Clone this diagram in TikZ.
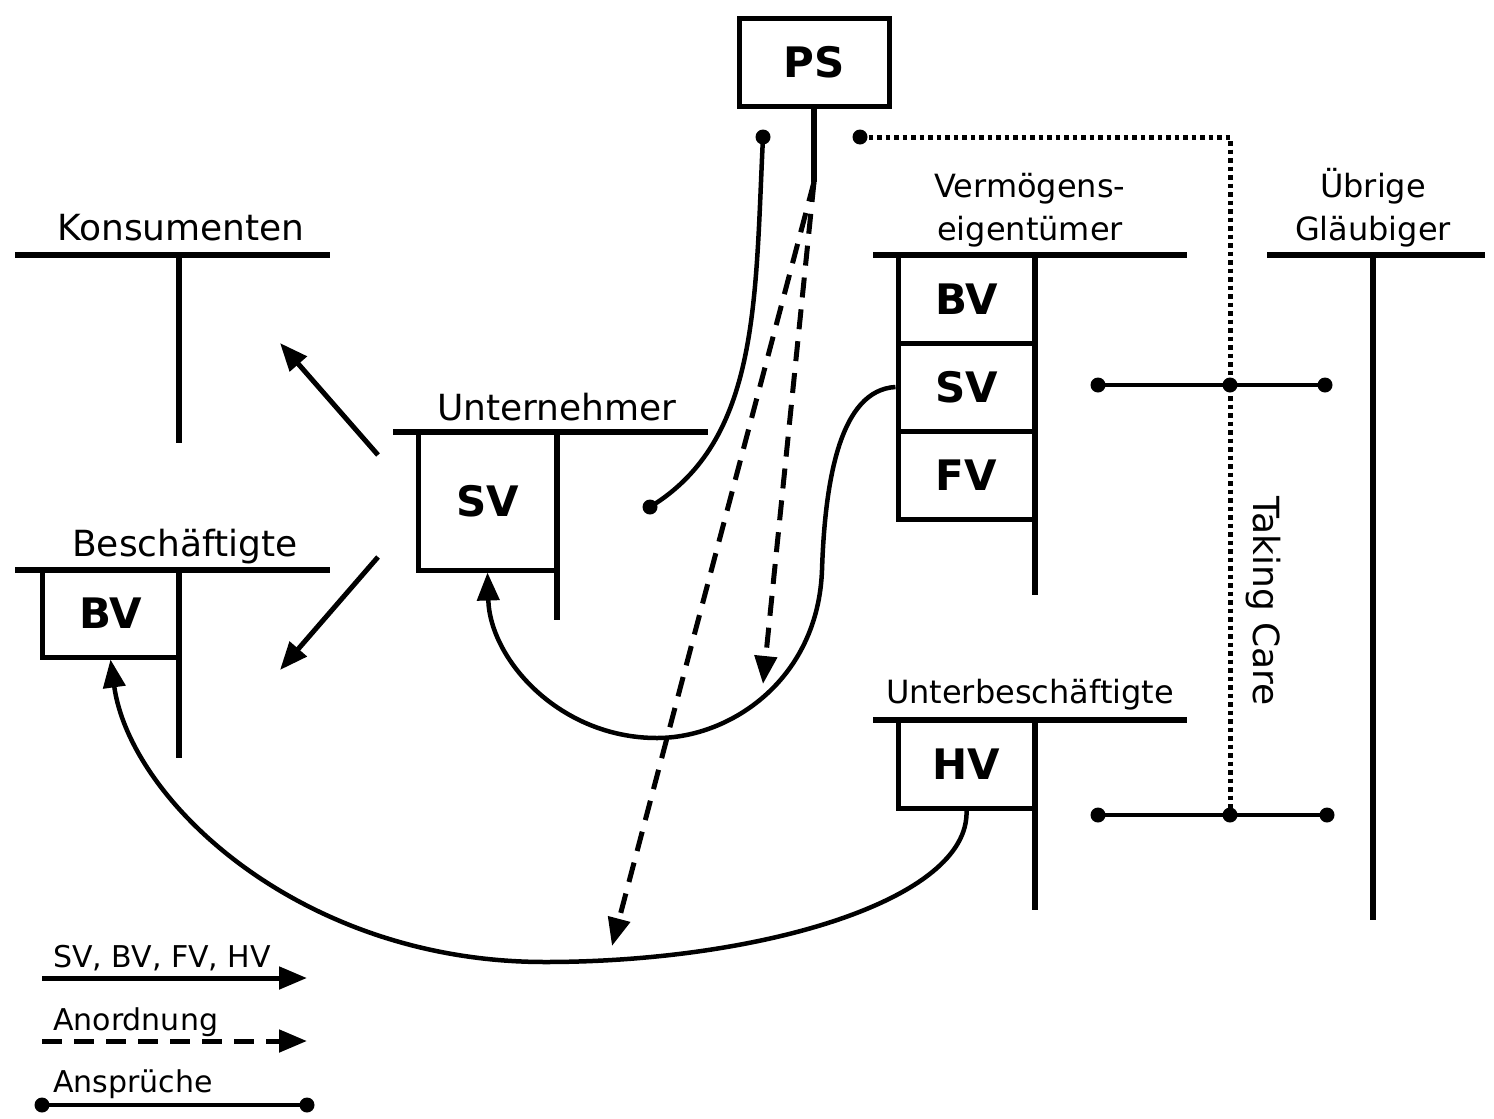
\documentclass[tikz,border=0pt]{standalone}
\usepackage{fontspec}
\setmainfont{DejaVu Sans}
\usetikzlibrary{arrows.meta,positioning}

\begin{document}
\begin{tikzpicture}[
    x=1pt, y=-1pt,
    account/.style={
        rectangle,
        draw,
        line width=5pt,
        inner sep=0pt,
        font=\fontsize{42}{42}\selectfont\bfseries
    },
    owner/.style={
        anchor=base,
        inner sep=0pt,
        align=center,
        font=\fontsize{32}{43}\selectfont
    },
    bigowner/.style={
        owner,
        font=\fontsize{36}{43}\selectfont
    },
    tline/.style={line width=5.5pt},
    flow/.style={
        -{Triangle[length=28pt, width=22pt]},
        line width=5pt
    },
    order/.style={
        flow,
        dash pattern=on 20pt off 12pt
    },
    claim/.style={line width=4.5pt},
    care/.style={line width=5pt, dash pattern=on 4.5pt off 4pt},
    dot/.style={circle, fill, inner sep=0pt, minimum size=15pt},
    legend/.style={
        anchor=base west,
        inner sep=0pt,
        font=\fontsize{30}{30}\selectfont
    }
]
    \useasboundingbox (0,0) rectangle (1494,1119);

    % PS
    \node[account, minimum width=150pt, minimum height=88pt] (ps) at (814,62) {PS};
    \coordinate (psfoot) at (814,182);
    \draw[tline] (ps.south) -- (psfoot);
    \node[dot] (psclaim) at (763,137) {};
    \node[dot] (pscare) at (860,137) {};

    % Konsumenten
    \node[bigowner] (kons) at (181,240) {Konsumenten};
    \draw[tline] (15,255) -- (330,255);
    \draw[tline] (179,255) -- (179,443);

    % Beschaeftigte
    \node[bigowner] (besch) at (185,556) {Beschäftigte};
    \draw[tline] (15,570) -- (330,570);
    \node[account, minimum width=137pt, minimum height=87pt] (bv) at (110.5,613.5) {BV};
    \draw[tline] (179,570) -- (179,758);

    % Unternehmer
    \node[bigowner] (untern) at (557,420) {Unternehmer};
    \draw[tline] (393,432) -- (708,432);
    \node[account, minimum width=139pt, minimum height=138pt] (usv) at (487.5,501) {SV};
    \draw[tline] (557,432) -- (557,620);
    \coordinate (uout1) at (378,455);
    \coordinate (uout2) at (378,557);
    \coordinate (kons in) at (280,343);
    \coordinate (besch in) at (280,670);
    \node[dot] (uclaim) at (650,507) {};

    % Vermoegenseigentuemer
    \node[owner] (verm) at (1030,240) {Vermögens-\\eigentümer};
    \draw[tline] (873,255) -- (1187,255);
    \node[account, minimum width=137pt, minimum height=88pt] (vbv) at (966.5,299) {BV};
    \node[account, minimum width=137pt, minimum height=88pt] (vsv) at (966.5,387) {SV};
    \node[account, minimum width=137pt, minimum height=88pt] (vfv) at (966.5,475) {FV};
    \draw[tline] (1035,255) -- (1035,595);

    % Uebrige Glaeubiger
    \node[owner] (glaeub) at (1373,240) {Übrige\\Gläubiger};
    \draw[tline] (1267,255) -- (1485,255);
    \draw[tline] (1373,255) -- (1373,920);

    % Unterbeschaeftigte
    \node[owner] (unterb) at (1030,703) {Unterbeschäftigte};
    \draw[tline] (873,720) -- (1187,720);
    \node[account, minimum width=137pt, minimum height=88pt] (hv) at (966.5,764) {HV};
    \draw[tline] (1035,720) -- (1035,910);

    % Ansprueche
    \node[dot] (c1a) at (1098,385) {};
    \node[dot] (c1b) at (1230,385) {};
    \node[dot] (c1c) at (1325,385) {};
    \node[dot] (c2a) at (1098,815) {};
    \node[dot] (c2b) at (1230,815) {};
    \node[dot] (c2c) at (1327,815) {};
    \draw[claim] (c1a.center) -- (c1c.center);
    \draw[claim] (c2a.center) -- (c2c.center);

    % Taking Care
    \draw[care] (pscare.center) -| (c2b.center);
    \node[rotate=-90, inner sep=0pt, font=\fontsize{36}{36}\selectfont] (care) at (1263,601) {Taking Care};

    % Stroeme
    \draw[flow] (uout1) -- (kons in);
    \draw[flow] (uout2) -- (besch in);
    \draw[claim] (psclaim.center) .. controls (755,300) and (760,440) .. (uclaim.center);
    \draw[flow, line width=4.5pt] (vsv.west) .. controls (840,390) and (825,480) .. (822,570)
        .. controls (818,680) and (730,738) .. (657,738)
        .. controls (560,738) and (490,660) .. (usv.south);
    \draw[flow, line width=4.5pt] (hv.south) .. controls (970,900) and (760,962) .. (545,962)
        .. controls (300,962) and (130,800) .. (bv.south);

    % Anordnungen
    \draw[order] (psfoot) -- (763,684);
    \draw[order] (psfoot) -- (612,946);

    % Legende
    \node[legend] (legflow) at (53,967) {SV, BV, FV, HV};
    \node[legend] (legorder) at (53,1030) {Anordnung};
    \node[legend] (legclaim) at (53,1092) {Ansprüche};
    \draw[flow] (42,978) -- (307,978);
    \draw[order] (42,1041) -- (307,1041);
    \node[dot] (legclaimA) at (42,1105) {};
    \node[dot] (legclaimB) at (307,1105) {};
    \draw[claim] (legclaimA.center) -- (legclaimB.center);
\end{tikzpicture}
\end{document}
